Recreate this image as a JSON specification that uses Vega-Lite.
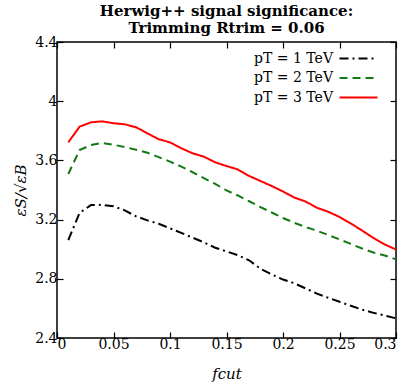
{
  "$schema": "https://vega.github.io/schema/vega-lite/v6.json",
  "width": 339,
  "height": 296,
  "autosize": {"type": "none"},
  "padding": {"left": 57, "top": 42, "right": 11, "bottom": 46},
  "background": "white",
  "title": {
    "text": ["Herwig++ signal significance:", "Trimming Rtrim = 0.06"],
    "font": "DejaVu Serif",
    "fontWeight": "bold",
    "fontSize": 15,
    "lineHeight": 17,
    "anchor": "middle",
    "offset": -1,
    "color": "black"
  },
  "config": {
    "view": {"stroke": "black", "strokeWidth": 1.5},
    "axis": {
      "grid": false,
      "domain": false,
      "tickColor": "black",
      "tickWidth": 1.2,
      "tickSize": -6,
      "labelFont": "DejaVu Serif",
      "labelFontSize": 14,
      "labelColor": "black",
      "titleFont": "DejaVu Serif",
      "titleFontStyle": "italic",
      "titleFontWeight": "normal",
      "titleFontSize": 15,
      "titleColor": "black"
    },
    "legend": {
      "labelFont": "DejaVu Serif",
      "labelFontSize": 14,
      "labelColor": "black"
    }
  },
  "data": {
    "values": [
      {"f": 0.01, "v": 3.062, "s": "pT = 1 TeV"},
      {"f": 0.02, "v": 3.245, "s": "pT = 1 TeV"},
      {"f": 0.03, "v": 3.298, "s": "pT = 1 TeV"},
      {"f": 0.04, "v": 3.300, "s": "pT = 1 TeV"},
      {"f": 0.05, "v": 3.290, "s": "pT = 1 TeV"},
      {"f": 0.06, "v": 3.262, "s": "pT = 1 TeV"},
      {"f": 0.07, "v": 3.222, "s": "pT = 1 TeV"},
      {"f": 0.08, "v": 3.195, "s": "pT = 1 TeV"},
      {"f": 0.09, "v": 3.172, "s": "pT = 1 TeV"},
      {"f": 0.10, "v": 3.141, "s": "pT = 1 TeV"},
      {"f": 0.11, "v": 3.110, "s": "pT = 1 TeV"},
      {"f": 0.12, "v": 3.078, "s": "pT = 1 TeV"},
      {"f": 0.13, "v": 3.046, "s": "pT = 1 TeV"},
      {"f": 0.14, "v": 3.010, "s": "pT = 1 TeV"},
      {"f": 0.15, "v": 2.985, "s": "pT = 1 TeV"},
      {"f": 0.16, "v": 2.960, "s": "pT = 1 TeV"},
      {"f": 0.17, "v": 2.925, "s": "pT = 1 TeV"},
      {"f": 0.18, "v": 2.868, "s": "pT = 1 TeV"},
      {"f": 0.19, "v": 2.830, "s": "pT = 1 TeV"},
      {"f": 0.20, "v": 2.795, "s": "pT = 1 TeV"},
      {"f": 0.21, "v": 2.770, "s": "pT = 1 TeV"},
      {"f": 0.22, "v": 2.735, "s": "pT = 1 TeV"},
      {"f": 0.23, "v": 2.700, "s": "pT = 1 TeV"},
      {"f": 0.24, "v": 2.672, "s": "pT = 1 TeV"},
      {"f": 0.25, "v": 2.645, "s": "pT = 1 TeV"},
      {"f": 0.26, "v": 2.618, "s": "pT = 1 TeV"},
      {"f": 0.27, "v": 2.592, "s": "pT = 1 TeV"},
      {"f": 0.28, "v": 2.570, "s": "pT = 1 TeV"},
      {"f": 0.29, "v": 2.552, "s": "pT = 1 TeV"},
      {"f": 0.30, "v": 2.533, "s": "pT = 1 TeV"},
      {"f": 0.01, "v": 3.508, "s": "pT = 2 TeV"},
      {"f": 0.02, "v": 3.670, "s": "pT = 2 TeV"},
      {"f": 0.03, "v": 3.704, "s": "pT = 2 TeV"},
      {"f": 0.04, "v": 3.718, "s": "pT = 2 TeV"},
      {"f": 0.05, "v": 3.706, "s": "pT = 2 TeV"},
      {"f": 0.06, "v": 3.690, "s": "pT = 2 TeV"},
      {"f": 0.07, "v": 3.672, "s": "pT = 2 TeV"},
      {"f": 0.08, "v": 3.652, "s": "pT = 2 TeV"},
      {"f": 0.09, "v": 3.622, "s": "pT = 2 TeV"},
      {"f": 0.10, "v": 3.592, "s": "pT = 2 TeV"},
      {"f": 0.11, "v": 3.558, "s": "pT = 2 TeV"},
      {"f": 0.12, "v": 3.520, "s": "pT = 2 TeV"},
      {"f": 0.13, "v": 3.480, "s": "pT = 2 TeV"},
      {"f": 0.14, "v": 3.441, "s": "pT = 2 TeV"},
      {"f": 0.15, "v": 3.397, "s": "pT = 2 TeV"},
      {"f": 0.16, "v": 3.363, "s": "pT = 2 TeV"},
      {"f": 0.17, "v": 3.324, "s": "pT = 2 TeV"},
      {"f": 0.18, "v": 3.285, "s": "pT = 2 TeV"},
      {"f": 0.19, "v": 3.248, "s": "pT = 2 TeV"},
      {"f": 0.20, "v": 3.211, "s": "pT = 2 TeV"},
      {"f": 0.21, "v": 3.178, "s": "pT = 2 TeV"},
      {"f": 0.22, "v": 3.150, "s": "pT = 2 TeV"},
      {"f": 0.23, "v": 3.125, "s": "pT = 2 TeV"},
      {"f": 0.24, "v": 3.096, "s": "pT = 2 TeV"},
      {"f": 0.25, "v": 3.066, "s": "pT = 2 TeV"},
      {"f": 0.26, "v": 3.036, "s": "pT = 2 TeV"},
      {"f": 0.27, "v": 3.005, "s": "pT = 2 TeV"},
      {"f": 0.28, "v": 2.978, "s": "pT = 2 TeV"},
      {"f": 0.29, "v": 2.957, "s": "pT = 2 TeV"},
      {"f": 0.30, "v": 2.932, "s": "pT = 2 TeV"},
      {"f": 0.01, "v": 3.722, "s": "pT = 3 TeV"},
      {"f": 0.02, "v": 3.828, "s": "pT = 3 TeV"},
      {"f": 0.03, "v": 3.857, "s": "pT = 3 TeV"},
      {"f": 0.04, "v": 3.864, "s": "pT = 3 TeV"},
      {"f": 0.05, "v": 3.851, "s": "pT = 3 TeV"},
      {"f": 0.06, "v": 3.844, "s": "pT = 3 TeV"},
      {"f": 0.07, "v": 3.824, "s": "pT = 3 TeV"},
      {"f": 0.08, "v": 3.783, "s": "pT = 3 TeV"},
      {"f": 0.09, "v": 3.743, "s": "pT = 3 TeV"},
      {"f": 0.10, "v": 3.722, "s": "pT = 3 TeV"},
      {"f": 0.11, "v": 3.682, "s": "pT = 3 TeV"},
      {"f": 0.12, "v": 3.648, "s": "pT = 3 TeV"},
      {"f": 0.13, "v": 3.625, "s": "pT = 3 TeV"},
      {"f": 0.14, "v": 3.587, "s": "pT = 3 TeV"},
      {"f": 0.15, "v": 3.562, "s": "pT = 3 TeV"},
      {"f": 0.16, "v": 3.539, "s": "pT = 3 TeV"},
      {"f": 0.17, "v": 3.495, "s": "pT = 3 TeV"},
      {"f": 0.18, "v": 3.461, "s": "pT = 3 TeV"},
      {"f": 0.19, "v": 3.427, "s": "pT = 3 TeV"},
      {"f": 0.20, "v": 3.390, "s": "pT = 3 TeV"},
      {"f": 0.21, "v": 3.349, "s": "pT = 3 TeV"},
      {"f": 0.22, "v": 3.322, "s": "pT = 3 TeV"},
      {"f": 0.23, "v": 3.280, "s": "pT = 3 TeV"},
      {"f": 0.24, "v": 3.253, "s": "pT = 3 TeV"},
      {"f": 0.25, "v": 3.218, "s": "pT = 3 TeV"},
      {"f": 0.26, "v": 3.174, "s": "pT = 3 TeV"},
      {"f": 0.27, "v": 3.126, "s": "pT = 3 TeV"},
      {"f": 0.28, "v": 3.076, "s": "pT = 3 TeV"},
      {"f": 0.29, "v": 3.032, "s": "pT = 3 TeV"},
      {"f": 0.30, "v": 2.998, "s": "pT = 3 TeV"}
    ]
  },
  "layer": [
    {
      "mark": {"type": "line", "strokeWidth": 2, "clip": true},
      "encoding": {
        "x": {
          "field": "f", "type": "quantitative",
          "scale": {"domain": [0, 0.3], "nice": false, "zero": false},
          "axis": {"orient": "bottom", "values": [0, 0.05, 0.1, 0.15, 0.2, 0.25, 0.3], "format": "~g", "title": "fcut", "labelPadding": 5, "titlePadding": 15}
        },
        "y": {
          "field": "v", "type": "quantitative",
          "scale": {"domain": [2.4, 4.4], "nice": false, "zero": false},
          "axis": {"orient": "left", "values": [2.4, 2.8, 3.2, 3.6, 4, 4.4], "format": "~g", "title": "εS/√εB", "labelPadding": 6, "titlePadding": 6}
        },
        "color": {
          "field": "s", "type": "nominal",
          "scale": {"domain": ["pT = 1 TeV", "pT = 2 TeV", "pT = 3 TeV"], "range": ["#000000", "#137a13", "#ff0000"]},
          "legend": {"title": null, "orient": "none", "legendX": 291, "legendY": 6, "symbolType": "M-2,0H2", "symbolSize": 361, "symbolStrokeWidth": 2, "symbolFillColor": "transparent", "rowPadding": 1.5, "labelAlign": "right", "labelOffset": -36, "labelLimit": 200}
        },
        "strokeDash": {
          "field": "s", "type": "nominal",
          "scale": {"domain": ["pT = 1 TeV", "pT = 2 TeV", "pT = 3 TeV"], "range": [[9, 4, 2, 4], [8, 5], [1, 0]]},
          "legend": {"title": null, "orient": "none", "legendX": 291, "legendY": 6, "symbolType": "M-2,0H2", "symbolSize": 361, "symbolStrokeWidth": 2, "symbolFillColor": "transparent", "rowPadding": 1.5, "labelAlign": "right", "labelOffset": -36, "labelLimit": 200}
        }
      }
    },
    {
      "mark": {"type": "line", "opacity": 0},
      "encoding": {
        "x": {
          "field": "f", "type": "quantitative",
          "scale": {"domain": [0, 0.3], "nice": false, "zero": false},
          "axis": {"orient": "top", "values": [0, 0.05, 0.1, 0.15, 0.2, 0.25, 0.3], "labels": false, "title": null}
        },
        "y": {
          "field": "v", "type": "quantitative",
          "scale": {"domain": [2.4, 4.4], "nice": false, "zero": false},
          "axis": {"orient": "right", "values": [2.4, 2.8, 3.2, 3.6, 4, 4.4], "labels": false, "title": null}
        },
        "detail": {"field": "s", "type": "nominal"}
      }
    }
  ],
  "resolve": {"axis": {"x": "independent", "y": "independent"}}
}
